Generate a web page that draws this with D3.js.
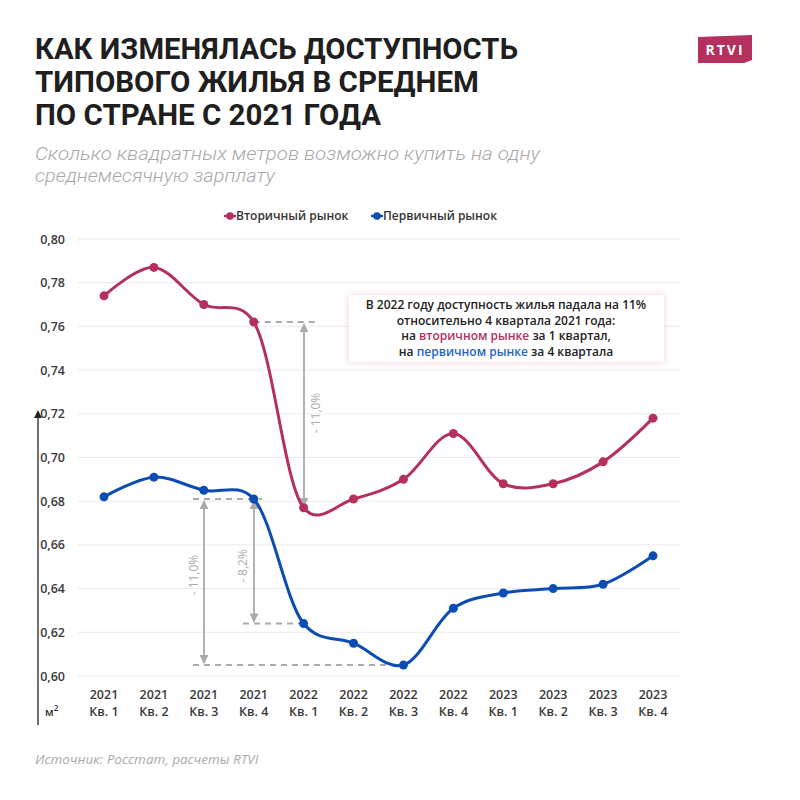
<!DOCTYPE html>
<html><head><meta charset="utf-8">
<script src="https://cdn.jsdelivr.net/npm/d3@7"></script>
<style>
html,body{margin:0;padding:0;background:#fff;}
svg{display:block;font-family:"Open Sans","Noto Sans",sans-serif;}
</style></head>
<body>
<svg id="c" width="800" height="800"></svg>
<script>
const quarters = ["2021|Кв. 1","2021|Кв. 2","2021|Кв. 3","2021|Кв. 4","2022|Кв. 1","2022|Кв. 2","2022|Кв. 3","2022|Кв. 4","2023|Кв. 1","2023|Кв. 2","2023|Кв. 3","2023|Кв. 4"];
const secondary = [0.774,0.787,0.770,0.762,0.677,0.681,0.690,0.711,0.688,0.688,0.698,0.718];
const primary = [0.682,0.691,0.685,0.681,0.624,0.615,0.605,0.631,0.638,0.640,0.642,0.655];
const yTicks = [0.60,0.62,0.64,0.66,0.68,0.70,0.72,0.74,0.76,0.78,0.80];
const seriesNames = ["Вторичный рынок","Первичный рынок"];
const titleLines = ["КАК ИЗМЕНЯЛАСЬ ДОСТУПНОСТЬ","ТИПОВОГО ЖИЛЬЯ В СРЕДНЕМ","ПО СТРАНЕ С 2021 ГОДА"];
const subtitleLines = ["Сколько квадратных метров возможно купить на одну","среднемесячную зарплату"];

const RED = "#b3305f", BLUE = "#0c4db3", GRAY = "#aaaaaa";
const svg = d3.select("#c");

// title
const titleW = [483, 444, 346];
titleLines.forEach((t,i)=>{
  svg.append("text").attr("x",35).attr("y",59+i*33).text(t)
    .attr("font-family","Roboto, 'Open Sans', sans-serif").attr("font-weight",700)
    .attr("font-size",30).attr("fill","#1f1f1f")
    .attr("textLength",titleW[i]).attr("lengthAdjust","spacingAndGlyphs");
});
const subW = [505, 240];
subtitleLines.forEach((t,i)=>{
  svg.append("text").attr("x",35).attr("y",160+i*22).text(t)
    .attr("font-family","Roboto, 'Open Sans', sans-serif").attr("font-weight",300)
    .attr("font-style","italic").attr("font-size",18).attr("fill","#a8a8a8")
    .attr("textLength",subW[i]).attr("lengthAdjust","spacingAndGlyphs");
});

// logo
svg.append("path").attr("d","M698,37 L752,35 L752,60 L744,63 L698,63 Z").attr("fill","#b4305f");
svg.append("text").attr("x",725).attr("y",55).attr("text-anchor","middle").text("RTVI")
  .attr("font-family","'Open Sans',sans-serif").attr("font-weight",700).attr("font-size",14)
  .attr("letter-spacing",2).attr("fill","#fff");

// scales
const x = d3.scalePoint().domain(quarters).range([104,653]);
const y = d3.scaleLinear().domain([0.60,0.80]).range([676,239]);

// grid
svg.append("g").selectAll("line").data(yTicks).join("line")
  .attr("x1",78).attr("x2",680).attr("y1",d=>y(d)).attr("y2",d=>y(d))
  .attr("stroke","#ebebeb").attr("stroke-width",1);

// y axis labels
const yAxis = d3.axisLeft(y).tickValues(yTicks).tickSize(0).tickPadding(0)
  .tickFormat(d=>d3.format(".2f")(d).replace(".",","));
const ya = svg.append("g").attr("transform","translate(65,0)").call(yAxis);
ya.select(".domain").remove();
ya.selectAll("text").attr("font-size",12.5).attr("font-weight",600).attr("fill","#3a3a3a")
  .attr("font-family","'Open Sans',sans-serif");

// y arrow
svg.append("defs").append("marker").attr("id","ah").attr("viewBox","0 0 10 10")
  .attr("refX",5).attr("refY",5).attr("markerWidth",6).attr("markerHeight",6).attr("orient","auto-start-reverse")
  .append("path").attr("d","M0,0 L10,5 L0,10 Z").attr("fill","#222");
svg.append("line").attr("x1",38).attr("x2",38).attr("y1",725).attr("y2",414)
  .attr("stroke","#222").attr("stroke-width",1.3).attr("marker-end","url(#ah)");
const m2 = svg.append("text").attr("x",45).attr("y",716).attr("font-size",11).attr("font-weight",600).attr("fill","#333");
m2.append("tspan").text("м");
m2.append("tspan").text("2").attr("font-size",8).attr("dy",-5);

// x axis labels
const xa = svg.append("g");
quarters.forEach(q=>{
  const [yr,kv] = q.split("|");
  const t = xa.append("text").attr("x",x(q)).attr("text-anchor","middle")
    .attr("font-size",12.5).attr("font-weight",600).attr("fill","#3a3a3a");
  t.append("tspan").attr("x",x(q)).attr("y",699).text(yr);
  t.append("tspan").attr("x",x(q)).attr("y",716).text(kv);
});

// annotations
const dash = (x1,x2,yy)=>svg.append("line").attr("x1",x1).attr("x2",x2).attr("y1",yy).attr("y2",yy)
  .attr("stroke","#aaa").attr("stroke-width",2).attr("stroke-dasharray","6,5");
const gm = svg.select("defs").append("marker").attr("id","ga").attr("viewBox","0 0 10 10")
  .attr("refX",9).attr("refY",5).attr("markerWidth",5).attr("markerHeight",5).attr("orient","auto-start-reverse");
gm.append("path").attr("d","M0,0 L10,5 L0,10 Z").attr("fill","#aaa");
const varrow = (xx,y1,y2)=>svg.append("line").attr("x1",xx).attr("x2",xx).attr("y1",y1).attr("y2",y2)
  .attr("stroke","#aaa").attr("stroke-width",1.8).attr("marker-start","url(#ga)").attr("marker-end","url(#ga)");
const vlabel = (xx,yy,t)=>svg.append("text").attr("transform",`translate(${xx},${yy}) rotate(-90)`)
  .attr("text-anchor","middle").attr("font-size",12).attr("fill","#aaa").text(t);

dash(x(quarters[3]), 318, y(secondary[3]));
varrow(304, y(secondary[3])+2, y(secondary[4])-2);
vlabel(320, 413, "- 11,0%");

dash(193, 262, y(primary[3]));
dash(243, x(quarters[4]), y(primary[4]));
dash(193, x(quarters[6]), y(primary[6]));
varrow(204, y(primary[3])+2, y(primary[6])-2);
varrow(254, y(primary[3])+2, y(primary[4])-2);
vlabel(198, 575, "- 11,0%");
vlabel(247, 566, "- 8,2%");

// lines
const line = d3.line().x((d,i)=>x(quarters[i])).y(d=>y(d)).curve(d3.curveCatmullRom.alpha(0.2));
[[secondary,RED],[primary,BLUE]].forEach(([data,col])=>{
  svg.append("path").attr("d",line(data)).attr("fill","none").attr("stroke",col).attr("stroke-width",3);
  svg.append("g").selectAll("circle").data(data).join("circle")
    .attr("cx",(d,i)=>x(quarters[i])).attr("cy",d=>y(d)).attr("r",4.5).attr("fill",col);
});

// legend
[[RED,224,seriesNames[0]],[BLUE,371,seriesNames[1]]].forEach(([col,lx,name])=>{
  svg.append("line").attr("x1",lx).attr("x2",lx+12).attr("y1",216).attr("y2",216).attr("stroke",col).attr("stroke-width",2.5);
  svg.append("circle").attr("cx",lx+6).attr("cy",216).attr("r",3.8).attr("fill",col);
  svg.append("text").attr("x",lx+12).attr("y",220).attr("font-size",12).attr("font-weight",600)
    .attr("fill","#333").text(name);
});

// annotation box
svg.append("defs").append("filter").attr("id","sh").attr("x","-10%").attr("y","-20%").attr("width","120%").attr("height","140%")
  .append("feDropShadow").attr("dx",0).attr("dy",0).attr("stdDeviation",3).attr("flood-color","#c0306a").attr("flood-opacity",0.25);
svg.append("rect").attr("x",349).attr("y",295).attr("width",315).attr("height",67).attr("fill","#fff").attr("filter","url(#sh)");
const boxLines = [
  [["В 2022 году доступность жилья падала на 11%","#222"]],
  [["относительно 4 квартала 2021 года:","#222"]],
  [["на ","#222"],["вторичном рынке",RED],[" за 1 квартал,","#222"]],
  [["на ","#222"],["первичном рынке","#2565c0"],[" за 4 квартала","#222"]]
];
boxLines.forEach((parts,i)=>{
  const t = svg.append("text").attr("x",506).attr("y",309+i*15.5).attr("text-anchor","middle")
    .attr("font-size",12).attr("font-weight",600);
  parts.forEach(([s,c])=>t.append("tspan").attr("fill",c).text(s));
});

// source
svg.append("text").attr("x",35).attr("y",764).attr("font-size",13.5).attr("font-style","italic")
  .attr("fill","#aaa").text("Источник: Росстат, расчеты RTVI");
</script>
</body></html>
